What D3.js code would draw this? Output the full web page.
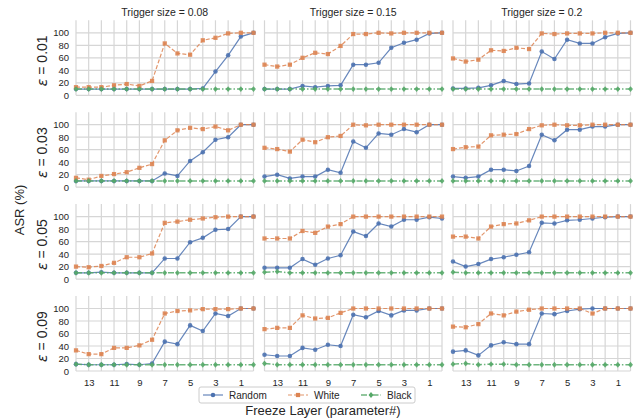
<!DOCTYPE html>
<html><head><meta charset="utf-8">
<script src="https://cdn.jsdelivr.net/npm/d3@7"></script>
<style>body{margin:0;background:#fff} svg{display:block}</style>
</head><body><svg id="chart" width="638" height="419"></svg>
<script>
// Freeze layer index, drawn from 14 (left) to 0 (right)
const layers = [14, 13, 12, 11, 10, 9, 8, 7, 6, 5, 4, 3, 2, 1, 0];
const triggerSizes = ["0.08", "0.15", "0.2"];
const epsilons = ["0.01", "0.03", "0.05", "0.09"];
const yTicks = [0, 20, 40, 60, 80, 100];
const xTickLabels = [13, 11, 9, 7, 5, 3, 1];
const seriesNames = ["Random", "White", "Black"];

// ASR (%) per epsilon row, then per trigger size column, one value per layer
const randomASR = [
  [[10,10,10,10,10,10,10,10,10,10,11,38,64,94,100],
   [10,10,10,15,13,15,16,49,49,52,76,84,89,99,100],
   [11,11,12,16,23,18,19,70,58,89,83,83,93,99,100]],
  [[10,10,10,10,10,10,10,22,18,42,56,76,80,100,100],
   [17,20,14,17,17,28,23,73,63,86,84,93,88,100,100],
   [17,15,17,28,28,26,34,84,75,92,92,97,97,100,100]],
  [[10,10,11,10,10,10,10,33,33,59,66,79,80,100,100],
   [18,18,18,32,23,33,38,76,69,89,84,95,95,99,97],
   [28,20,24,32,35,39,43,90,89,94,95,97,99,100,100]],
  [[11,10,10,10,11,10,12,47,43,73,64,92,88,100,100],
   [26,24,24,37,34,42,40,90,86,96,89,97,97,100,100],
   [31,33,25,41,46,43,43,92,91,96,99,100,100,100,100]]
];
const whiteASR = [
  [[13,13,13,16,18,15,23,83,67,65,88,92,99,100,100],
   [49,46,49,60,68,66,79,98,98,100,99,100,100,100,100],
   [59,54,57,72,71,76,74,99,98,99,99,99,100,100,100]],
  [[15,12,18,21,24,31,37,75,91,95,93,97,91,100,100],
   [63,61,57,76,72,80,82,100,99,100,100,100,100,100,100],
   [61,64,65,83,84,85,93,99,100,99,99,100,100,100,100]],
  [[20,19,21,26,35,35,41,90,92,95,97,99,100,100,100],
   [65,65,65,77,74,84,88,100,100,100,100,100,100,100,100],
   [68,68,65,84,88,89,94,100,100,100,100,100,100,100,100]],
  [[33,27,27,37,37,41,50,92,96,97,99,99,99,100,100],
   [67,69,69,89,84,85,93,100,100,100,100,100,100,100,100],
   [71,70,75,92,89,95,98,100,100,100,100,92,100,100,100]]
];
const blackASR = [
  [[10,10,10,10,10,10,10,10,10,10,10,10,10,10,10],
   [10,10,10,10,10,10,10,10,10,10,10,10,10,10,10],
   [10,10,10,10,10,10,10,10,10,10,10,10,10,10,10]],
  [[10,10,10,10,10,10,10,10,10,10,10,10,10,10,10],
   [10,10,10,10,10,10,10,10,10,10,10,10,10,10,10],
   [10,10,10,10,10,10,10,10,10,10,10,10,10,10,10]],
  [[10,10,10,10,10,10,10,10,10,10,10,10,10,10,10],
   [11,12,10,10,10,10,10,10,10,10,10,10,10,10,10],
   [11,10,10,10,10,10,10,10,10,10,10,10,10,10,10]],
  [[11,10,10,10,10,10,10,10,10,10,10,10,10,10,10],
   [12,10,10,10,10,10,10,10,10,10,10,10,10,10,10],
   [11,12,10,11,11,10,10,10,10,10,10,10,10,10,10]]
];

const font = "'Liberation Sans', Arial, sans-serif";
const textColor = "#262626";
const gridColor = "#d6d6d6";

// compact diamond marker, a little taller than wide
const diamond = {
  draw(ctx, size) {
    const h = Math.sqrt(size) * 0.72, w = h * 0.85;
    ctx.moveTo(0, -h); ctx.lineTo(w, 0); ctx.lineTo(0, h); ctx.lineTo(-w, 0); ctx.closePath();
  }
};

const styles = [
  { data: randomASR, color: "#4c72b0", dash: null,        width: 1.2, symbol: d3.symbolCircle,  size: 16 },
  { data: whiteASR,  color: "#dd8452", dash: "4,2",       width: 1.2, symbol: d3.symbolSquare,  size: 18 },
  { data: blackASR,  color: "#55a868", dash: "6,2,1.5,2", width: 1.5, symbol: diamond,          size: 16 }
];

const colX = [76, 264.5, 453];
const pw = 177.5;
const rowTop = [20.3, 112.2, 204.1, 296];
const ph = 75;

const x = d3.scaleLinear().domain([14, 0]).range([0, pw]);
const y = d3.scaleLinear().domain([0, 120]).range([ph, 0]);

const svg = d3.select("#chart");

epsilons.forEach((eps, r) => {
  triggerSizes.forEach((ts, c) => {
    const g = svg.append("g").attr("transform", `translate(${colX[c]},${rowTop[r]})`);

    // grid
    g.append("g").selectAll("line").data(layers).join("line")
      .attr("x1", d => x(d)).attr("x2", d => x(d))
      .attr("y1", 0).attr("y2", ph)
      .attr("stroke", gridColor).attr("stroke-width", 1.2);
    g.append("g").selectAll("line").data(yTicks).join("line")
      .attr("x1", 0).attr("x2", pw)
      .attr("y1", d => y(d)).attr("y2", d => y(d))
      .attr("stroke", gridColor).attr("stroke-width", 1.2);

    // y tick labels and row title on the first column
    if (c === 0) {
      const ya = d3.axisLeft(y).tickValues(yTicks).tickSize(0).tickPadding(7);
      const ax = g.append("g").call(ya);
      ax.select(".domain").remove();
      ax.selectAll("text").attr("font-family", font).attr("font-size", 9.5).attr("fill", textColor);
      svg.append("text")
        .attr("transform", `translate(47,${rowTop[r] + ph / 2 + 3}) rotate(-90)`)
        .attr("text-anchor", "middle")
        .attr("font-family", font).attr("font-size", 14).attr("fill", textColor)
        .html(`<tspan font-style="italic" font-family="DejaVu Sans, sans-serif">ε</tspan> = ${eps}`);
    }

    // x tick labels on the bottom row
    if (r === epsilons.length - 1) {
      const xa = d3.axisBottom(x).tickValues(xTickLabels).tickSize(0).tickPadding(8).tickFormat(d3.format("d"));
      const ax = g.append("g").attr("transform", `translate(0,${ph})`).call(xa);
      ax.select(".domain").remove();
      ax.selectAll("text").attr("font-family", font).attr("font-size", 9.5).attr("fill", textColor);
    }

    // column titles
    if (r === 0) {
      g.append("text").attr("x", pw / 2).attr("y", -4.5)
        .attr("text-anchor", "middle")
        .attr("font-family", font).attr("font-size", 10.5).attr("fill", textColor)
        .text(`Trigger size = ${ts}`);
    }

    // series
    styles.forEach(s => {
      const vals = s.data[r][c];
      const pts = layers.map((l, i) => [l, vals[i]]);
      const line = d3.line().x(d => x(d[0])).y(d => y(d[1]));
      g.append("path").attr("d", line(pts))
        .attr("fill", "none").attr("stroke", s.color)
        .attr("stroke-width", s.width).attr("stroke-dasharray", s.dash)
        .attr("opacity", 0.85);
      g.append("g").selectAll("path").data(pts).join("path")
        .attr("transform", d => `translate(${x(d[0])},${y(d[1])})`)
        .attr("d", d3.symbol().type(s.symbol).size(s.size))
        .attr("fill", s.color).attr("opacity", 0.9);
    });
  });
});

// shared axis titles
svg.append("text")
  .attr("transform", "translate(24,210) rotate(-90)")
  .attr("text-anchor", "middle")
  .attr("font-family", font).attr("font-size", 13).attr("fill", textColor)
  .text("ASR (%)");
svg.append("text")
  .attr("x", 323).attr("y", 415)
  .attr("text-anchor", "middle")
  .attr("font-family", font).attr("font-size", 13).attr("fill", textColor)
  .text("Freeze Layer (parameter#)");

// legend
const lg = svg.append("g");
lg.append("rect").attr("x", 199).attr("y", 387).attr("width", 216).attr("height", 16)
  .attr("rx", 2).attr("fill", "#fff").attr("stroke", "#cccccc").attr("stroke-width", 1);
const handleX = [203, 288, 361];
const textX = [229, 314, 387];
styles.forEach((s, i) => {
  const cy = 395;
  lg.append("line").attr("x1", handleX[i]).attr("x2", handleX[i] + 20)
    .attr("y1", cy).attr("y2", cy)
    .attr("stroke", s.color).attr("stroke-width", s.width).attr("stroke-dasharray", s.dash)
    .attr("opacity", 0.85);
  lg.append("path").attr("transform", `translate(${handleX[i] + 10},${cy})`)
    .attr("d", d3.symbol().type(s.symbol).size(s.size)).attr("fill", s.color);
  lg.append("text").attr("x", textX[i]).attr("y", cy).attr("dy", "0.35em")
    .attr("font-family", font).attr("font-size", 10).attr("fill", textColor)
    .text(seriesNames[i]);
});
</script></body></html>
